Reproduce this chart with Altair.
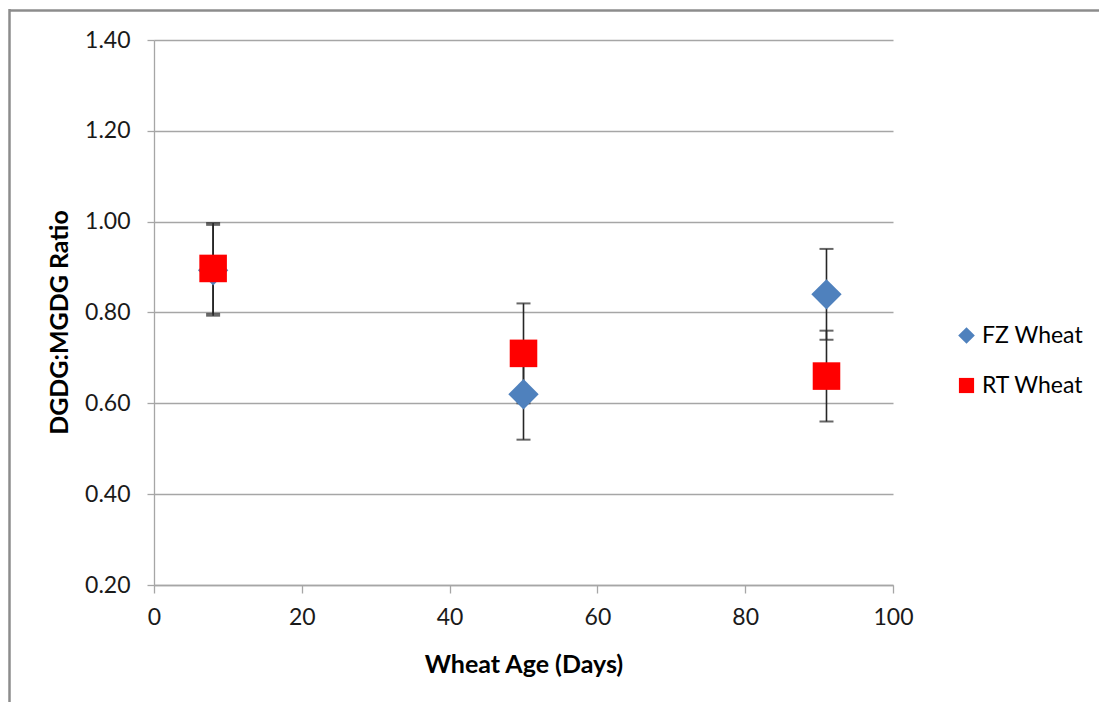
import altair as alt
import pandas as pd

# ---- data ----
days = [8, 50, 91]
fz_ratio = [0.893, 0.62, 0.84]
fz_err = [0.10, 0.10, 0.10]
rt_ratio = [0.897, 0.71, 0.66]
rt_err = [0.10, 0.11, 0.10]
series_names = ["FZ Wheat", "RT Wheat"]
series_colors = ["#4F81BD", "#FF0000"]
series_shapes = ["M-1.1,0L0,-1.1L1.1,0L0,1.1Z", "square"]
x_ticks = [0, 20, 40, 60, 80, 100]
y_ticks = [0.2, 0.4, 0.6, 0.8, 1.0, 1.2, 1.4]

rows = []
for name, vals, errs in ((series_names[0], fz_ratio, fz_err),
                         (series_names[1], rt_ratio, rt_err)):
    for d, v, e in zip(days, vals, errs):
        rows.append({"series": name, "day": d, "ratio": v,
                     "lo": round(v - e, 4), "hi": round(v + e, 4)})
df = pd.DataFrame(rows)

FONT = "Lato"
GRAY = "#A6A6A6"
TXT = "#1a1a1a"

x_axis = alt.Axis(values=x_ticks, title="Wheat Age (Days)", grid=False,
                  tickSize=8, tickColor=GRAY, tickWidth=1.3,
                  domainColor=GRAY, domainWidth=1.3,
                  labelFont=FONT, labelFontSize=23, labelColor=TXT,
                  labelPadding=13, labelFlush=False,
                  titleFont=FONT, titleFontSize=25, titleFontWeight="bold",
                  titleColor="#000000", titleBaseline="alphabetic", titleY=87)
y_axis = alt.Axis(values=y_ticks, format=".2f", title="DGDG:MGDG Ratio",
                  grid=True, gridColor=GRAY, gridWidth=1.3,
                  tickSize=7, tickColor=GRAY, tickWidth=1.3,
                  domainColor=GRAY, domainWidth=1.3,
                  labelFont=FONT, labelFontSize=23, labelColor=TXT,
                  labelPadding=17, labelFlush=False,
                  titleFont=FONT, titleFontSize=25, titleFontWeight="bold",
                  titleColor="#000000", titleBaseline="alphabetic",
                  titleX=-87, titleY=282, titleAngle=-90)

xs = alt.Scale(domain=[0, 100], nice=False, zero=False)
ys = alt.Scale(domain=[0.2, 1.4], nice=False, zero=False)

base = alt.Chart(df)

bars = base.mark_rule(color="#262626", strokeWidth=1.6).encode(
    x=alt.X("day:Q", scale=xs, axis=x_axis),
    y=alt.Y("lo:Q", scale=ys, axis=y_axis),
    y2="hi:Q",
)
cap_lo = base.mark_tick(color="#262626", orient="horizontal", size=14, thickness=2).encode(
    x=alt.X("day:Q", scale=xs, axis=x_axis),
    y=alt.Y("lo:Q", scale=ys, axis=y_axis),
)
cap_hi = base.mark_tick(color="#262626", orient="horizontal", size=14, thickness=2).encode(
    x=alt.X("day:Q", scale=xs, axis=x_axis),
    y=alt.Y("hi:Q", scale=ys, axis=y_axis),
)

points = base.mark_point(filled=True, opacity=1, size=760).encode(
    x=alt.X("day:Q", scale=xs, axis=x_axis),
    y=alt.Y("ratio:Q", scale=ys, axis=y_axis),
    color=alt.Color("series:N", scale=alt.Scale(domain=series_names, range=series_colors),
                    legend=alt.Legend(title=None)),
    shape=alt.Shape("series:N", scale=alt.Scale(domain=series_names, range=series_shapes),
                    legend=alt.Legend(title=None)),
    order=alt.Order("series:N"),
)

frame_data = alt.Data(values=[{"k": 1}])
frame_top = alt.Chart(frame_data).mark_rule(color="#8C8C8C", strokeWidth=2.5).encode(
    x=alt.value(-145), x2=alt.value(960), y=alt.value(-29.5))
frame_left = alt.Chart(frame_data).mark_rule(color="#8C8C8C", strokeWidth=2.5).encode(
    x=alt.value(-144.5), y=alt.value(-31), y2=alt.value(680))

chart = alt.layer(frame_top, frame_left, bars, cap_lo, cap_hi, points).properties(
    width=739, height=545,
    autosize=alt.AutoSizeParams(type="none"),
    padding={"left": 154, "top": 40, "right": 206, "bottom": 117},
    background="white",
).configure_view(stroke=None).configure_legend(
    orient="none", legendX=801, legendY=284,
    labelFont=FONT, labelFontSize=23, labelColor="#000000",
    symbolSize=230, rowPadding=26, labelOffset=4, padding=0,
    symbolStrokeWidth=0,
)

chart.save("out.html", embed_options={"renderer": "svg", "actions": False})
